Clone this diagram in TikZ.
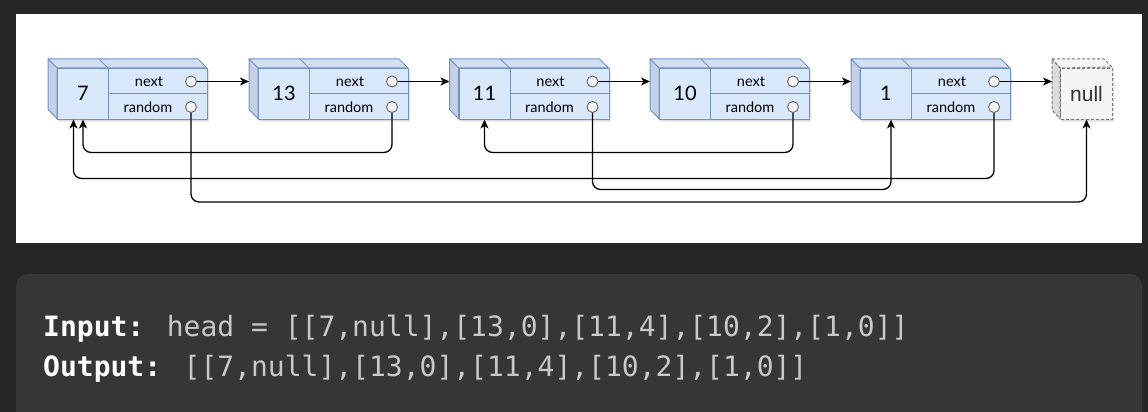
\documentclass[tikz,border=0pt]{standalone}
\usepackage{fontspec}
\setmainfont{Lato}
\newfontfamily\codefont{DejaVu Sans Mono}
\newfontfamily\termfont{Liberation Sans}
\usetikzlibrary{arrows.meta}

\definecolor{pagebg}{HTML}{262626}
\definecolor{panelbg}{HTML}{363636}
\definecolor{cellfill}{HTML}{DAE8FC}
\definecolor{celledge}{HTML}{7393C4}
\definecolor{celltop}{HTML}{D2DFF3}
\definecolor{cellside}{HTML}{C3D0E8}
\definecolor{portfill}{HTML}{F5F5F5}
\definecolor{portedge}{HTML}{666666}
\definecolor{termfill}{HTML}{F5F5F5}
\definecolor{termside}{HTML}{DCDCDC}
\definecolor{termedge}{HTML}{777777}
\definecolor{codegray}{HTML}{C8C8C8}

\tikzset{
  cubeedge/.style={draw=celledge, line width=1pt, line join=round},
  valcell/.style={cubeedge, fill=cellfill, minimum width=51pt, minimum height=50.5pt,
    inner sep=0pt, anchor=north west, font=\fontsize{20}{20}\selectfont},
  fieldcell/.style={cubeedge, fill=cellfill, minimum width=99pt, minimum height=25.25pt,
    inner sep=0pt, anchor=north west},
  lbl/.style={inner sep=0pt, font=\fontsize{14.5}{14.5}\selectfont},
  port/.style={circle, draw=portedge, fill=portfill, line width=0.9pt,
    minimum size=11pt, inner sep=0pt},
  ptr/.style={-{Stealth[length=9pt,width=8pt,inset=2.5pt]}, line width=1.3pt,
    black, rounded corners=8pt},
  shade/.style={fill=black, opacity=0.12},
  termline/.style={draw=termedge, line width=1pt, dash pattern=on 3pt off 2pt, line join=round},
  codeline/.style={anchor=base west, inner sep=0pt, text=codegray,
    font=\codefont\fontsize{28}{28}\selectfont},
}

% One list cell drawn as a cube: #1 name, #2 left x of the front face, #3 value
\newcommand\listcell[3]{%
  \fill[shade] (#2-7,62) -- (#2+143,62) -- (#2+152,71) -- (#2+152,121.5)
    -- (#2+2,121.5) -- (#2-7,112.5) -- cycle;
  \filldraw[cubeedge, fill=celltop] (#2-9,59) -- (#2+141,59) -- (#2+150,68) -- (#2,68) -- cycle;
  \filldraw[cubeedge, fill=cellside] (#2-9,59) -- (#2,68) -- (#2,118.5) -- (#2-9,109.5) -- cycle;
  \draw[cubeedge] (#2+42,59) -- (#2+51,68);
  \node[valcell] (v#1) at (#2,68) {#3};
  \node[fieldcell] (nf#1) at (#2+51,68) {};
  \node[fieldcell] (rf#1) at (#2+51,93.25) {};
  \node[lbl] (nt#1) at (#2+92,81.5) {next};
  \node[lbl] (rt#1) at (#2+91,107) {random};
  \node[port] (np#1) at (#2+134,81.5) {};
  \node[port] (rp#1) at (#2+134,107) {};
  \coordinate (in#1) at (#2-9,81.5);
}

\begin{document}
\begin{tikzpicture}[x=1pt, y=-1pt]
  % page, white drawing area and code panel
  \fill[pagebg] (0,0) rectangle (1148,412);
  \useasboundingbox (0,0) rectangle (1148,412);
  \fill[white] (16,14) rectangle (1142,243);
  \begin{scope}
    \clip (0,0) rectangle (1148,412);
    \fill[panelbg, rounded corners=12pt] (16,274) rectangle (1142,450);
  \end{scope}

  % list cells
  \listcell{1}{57}{7}
  \listcell{2}{258}{13}
  \listcell{3}{458.5}{11}
  \listcell{4}{659}{10}
  \listcell{5}{860}{1}

  % null terminator
  \fill[shade] (1054,62) -- (1106,62) -- (1114,70) -- (1114,121.5) -- (1062,121.5) -- (1054,113) -- cycle;
  \filldraw[termline, fill=termfill] (1052,59) -- (1104,59) -- (1112,67) -- (1060,68) -- cycle;
  \filldraw[termline, fill=termside] (1052,59) -- (1060,68) -- (1060,118.5) -- (1052,110) -- cycle;
  \node[termline, fill=termfill, minimum width=52pt, minimum height=50.5pt, inner sep=0pt,
    anchor=north west, text=black!80, font=\termfont\fontsize{21}{21}\selectfont]
    (nullbox) at (1060,68) {null};
  \coordinate (in6) at (1052,81.5);

  % next pointers
  \draw[ptr] (np1.east) -- (in2);
  \draw[ptr] (np2.east) -- (in3);
  \draw[ptr] (np3.east) -- (in4);
  \draw[ptr] (np4.east) -- (in5);
  \draw[ptr] (np5.east) -- (in6);

  % random pointers
  \draw[ptr] (rp1.south) -- ++(0,89) -| (nullbox.south);
  \draw[ptr] (rp2.south) -- ++(0,39.5) -| (v1.south);
  \draw[ptr] (rp3.south) -- ++(0,76.5) -| ([xshift=5pt]v5.south);
  \draw[ptr] (rp4.south) -- ++(0,39.5) -| (v3.south);
  \draw[ptr] (rp5.south) -- ++(0,65.5) -| ([xshift=-9.5pt]v1.south);

  % example input and output
  \node[codeline] (inputline) at (43,336)
    {\textcolor{white}{\bfseries Input:} head = [[7,null],[13,0],[11,4],[10,2],[1,0]]};
  \node[codeline] (outputline) at (43,376)
    {\textcolor{white}{\bfseries Output:} [[7,null],[13,0],[11,4],[10,2],[1,0]]};
\end{tikzpicture}
\end{document}
